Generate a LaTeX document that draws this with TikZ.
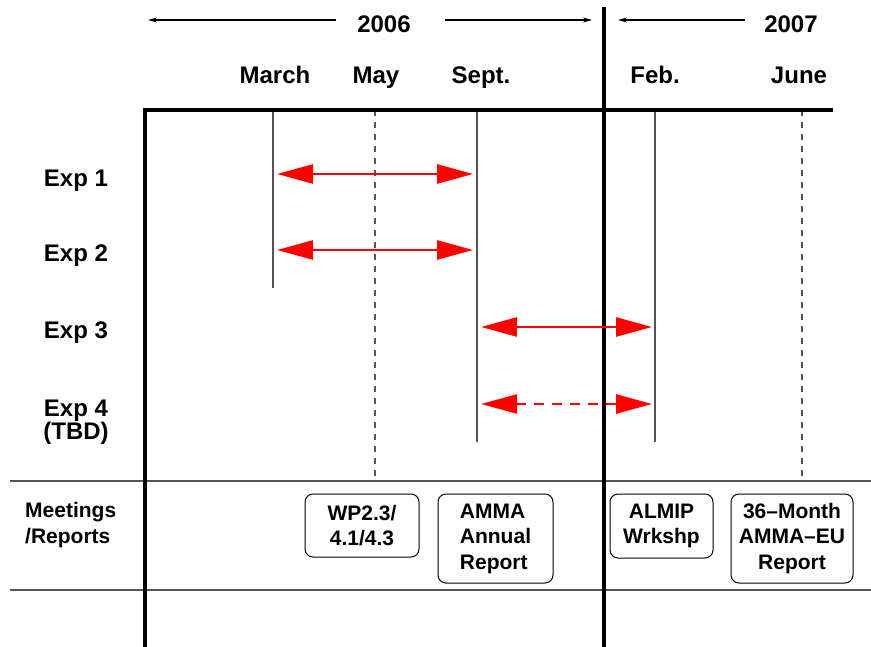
\documentclass[tikz,border=0pt]{standalone}
\usepackage{fontspec}
\setmainfont{Liberation Sans}
\usetikzlibrary{arrows.meta}
\definecolor{redarrow}{RGB}{255,0,0}
\definecolor{gridgray}{RGB}{85,85,85}
\tikzset{
  biglabel/.style={font=\bfseries\fontsize{24}{22}\selectfont, inner sep=0pt, anchor=base},
  smalllabel/.style={font=\bfseries\fontsize{21}{25.5}\selectfont, inner sep=0pt},
  thickrule/.style={line width=4pt, black},
  thinrule/.style={line width=1.3pt, gridgray},
  monthline/.style={line width=1.4pt, gridgray},
  monthdash/.style={line width=1.2pt, gridgray, dash pattern=on 6pt off 6pt},
  expspan/.style={line width=2.6pt, redarrow, {Triangle[length=36pt,width=19pt]}-{Triangle[length=36pt,width=19pt]}},
  yeararrow/.style={line width=1.1pt, black, -{Stealth[length=9pt,width=5pt]}},
  meetbox/.style={draw, line width=1pt, rounded corners=8pt, smalllabel, inner sep=0pt}
}
\begin{document}
\begin{tikzpicture}[x=1pt,y=-1pt]
\useasboundingbox (0,0) rectangle (871,647);
% year headings
\node[biglabel] (y2006) at (384,33) {2006};
\node[biglabel] (y2007) at (791,33) {2007};
\coordinate (y6L) at (148,20);
\coordinate (y6Ls) at (336,20);
\coordinate (y6Rs) at (445,20);
\coordinate (y6R) at (592,20);
\coordinate (y7s) at (745,20);
\coordinate (y7L) at (618,20);
\draw[yeararrow] (y6Ls) -- (y6L);
\draw[yeararrow] (y6Rs) -- (y6R);
\draw[yeararrow] (y7s) -- (y7L);
% months
\node[biglabel] (mMar) at (275,84) {March};
\node[biglabel] (mMay) at (376,84) {May};
\node[biglabel] (mSep) at (481,84) {Sept.};
\node[biglabel] (mFeb) at (655,84) {Feb.};
\node[biglabel] (mJun) at (799,84) {June};
% month lines
\draw[monthline] (273,110) -- (273,288);
\draw[monthdash] (375,110) -- (375,481);
\draw[monthline] (477,110) -- (477,442);
\draw[monthline] (655,110) -- (655,442);
\draw[monthdash] (802,110) -- (802,481);
% horizontal rules
\draw[thinrule] (10,481) -- (871,481);
\draw[thinrule] (10,590) -- (871,590);
% thick frame lines
\draw[thickrule] (143,110) -- (833,110);
\draw[thickrule] (145,110) -- (145,647);
\draw[thickrule] (604,7) -- (604,647);
% row labels
\node[biglabel] (e1) at (76,187) {Exp 1};
\node[biglabel] (e2) at (76,262) {Exp 2};
\node[biglabel] (e3) at (76,338) {Exp 3};
\node[biglabel] (e4) at (76,416) {Exp 4};
\node[biglabel] (e4b) at (76,439) {(TBD)};
\node[smalllabel, align=left, anchor=west] (meet) at (25,525) {Meetings\\/Reports};
% experiment spans
\coordinate (a1L) at (277,174); \coordinate (a1R) at (473,174);
\coordinate (a2L) at (277,250); \coordinate (a2R) at (473,250);
\coordinate (a3L) at (481,327); \coordinate (a3R) at (652,327);
\coordinate (a4L) at (481,404); \coordinate (a4R) at (652,404);
\draw[expspan] (a1L) -- (a1R);
\draw[expspan] (a2L) -- (a2R);
\draw[expspan] (a3L) -- (a3R);
\draw[expspan, dash pattern=on 10pt off 8pt] (a4L) -- (a4R);
% meeting boxes
\node[meetbox, minimum width=114pt, minimum height=63pt, align=center] (b1) at (362,525.5) {WP2.3/\\4.1/4.3};
\node[meetbox, minimum width=115pt, minimum height=89pt, align=left] (b2) at (495.5,538.5) {AMMA\\Annual\\Report};
\node[meetbox, minimum width=103pt, minimum height=64pt, align=center] (b3) at (661.5,526) {ALMIP\\Wrkshp};
\node[meetbox, minimum width=122pt, minimum height=89pt, align=center] (b4) at (792,538.5) {36\textendash Month\\AMMA\textendash EU\\Report};
\end{tikzpicture}
\end{document}
